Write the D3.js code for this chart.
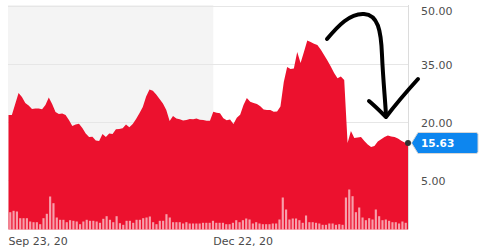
<!DOCTYPE html>
<html>
<head>
<meta charset="utf-8">
<script src="https://cdn.jsdelivr.net/npm/d3@7/dist/d3.min.js"></script>
<style>
  html, body { margin: 0; padding: 0; background: #fff; }
  svg { display: block; font-family: "DejaVu Sans", sans-serif; }
</style>
</head>
<body>
<svg id="chart" width="490" height="247"></svg>
<script>
// ---- data ----
const prices = [
  21.76, 21.76, 24.60, 27.44, 26.41, 24.86, 24.21, 23.31, 23.44, 23.44,
  23.23, 24.34, 26.28, 24.60, 22.54, 22.02, 22.15, 21.76, 20.47, 18.93,
  19.31, 19.49, 18.41, 16.99, 16.09, 16.17, 15.19, 15.06, 16.86, 16.09,
  16.99, 16.86, 18.10, 18.15, 18.33, 19.31, 18.59, 19.44, 20.73, 22.20,
  23.83, 26.53, 28.31, 28.00, 27.05, 25.89, 24.73, 23.05, 20.22, 21.51,
  20.86, 20.65, 20.32, 20.47, 20.73, 20.68, 20.86, 20.55, 20.47, 20.29,
  20.29, 22.61, 22.36, 22.23, 20.91, 20.42, 20.60, 19.44, 21.07, 21.82,
  24.34, 26.15, 25.19, 24.86, 24.60, 24.01, 23.18, 23.05, 23.05, 22.59,
  22.67, 23.96, 30.27, 34.14, 33.63, 33.75, 38.01, 35.17, 38.01, 40.97,
  40.59, 40.15, 39.81, 38.65, 37.24, 35.82, 34.27, 32.59, 31.23, 31.69,
  30.79, 14.54, 17.64, 15.83, 15.96, 16.09, 15.06, 14.16, 13.51, 13.77,
  14.93, 15.50, 16.09, 16.48, 16.25, 16.09, 15.68, 15.14, 14.67, 14.54
];
const volumes = [
  17.3, 18.7, 18, 11.3, 11.3, 11.3, 8, 7.3, 7.3, 5.3,
  11.3, 15.7, 33, 26.3, 12, 9.7, 9.7, 7.3, 9.3, 8.7,
  8, 5.3, 8, 9.7, 8.7, 8.7, 8, 6.7, 10.7, 13.3,
  9.7, 7.3, 13.3, 6.3, 4.7, 8.7, 8.7, 6.7, 9.7, 9.7,
  11.3, 12, 13, 7.3, 5.3, 8.7, 8.7, 15.3, 12, 7.3,
  7.3, 7.3, 6, 7.3, 6, 6, 6, 6, 6.7, 6.7,
  6.7, 8.7, 6.7, 6.7, 6.7, 5.3, 5.3, 6.7, 9.3, 7.3,
  9.3, 11, 10, 6, 7.3, 6, 5.3, 5.3, 5.3, 6,
  6, 10, 32, 20, 10, 11, 11, 9.3, 6.7, 14,
  7.3, 7.3, 6.7, 6, 4.7, 4.7, 6, 6, 4.7, 5.3,
  4.7, 32, 40, 33.3, 17.3, 22, 12, 9.3, 11.3, 10,
  20, 13.3, 9.3, 10, 8.7, 7.3, 7.3, 6, 8, 6.7
];
const yTicks = [50, 35, 20, 5];
const xTickLabels = ["Sep 23, 20", "Dec 22, 20"];
const xTickIndex = [0, 61];
const shadeEndIndex = 61;
const lastPriceLabel = "15.63";

// ---- layout ----
const svg = d3.select("#chart");
const plotL = 8.5, plotR = 408, plotT = 5.5, plotB = 229.5;

const x = d3.scaleLinear().domain([0, prices.length - 1]).range([plotL, plotR]);
const xb = d3.scaleBand().domain(d3.range(volumes.length)).range([8, 408]).padding(0.36);
const y = d3.scaleLinear().domain([50, 5]).range([plotT, 180]);
const yv = d3.scaleLinear().domain([0, 100]).range([plotB, plotB - 100]);

// shaded earlier region
svg.append("rect")
  .attr("x", 8).attr("y", 5)
  .attr("width", x(shadeEndIndex) - 8).attr("height", plotB - 5)
  .attr("fill", "#f4f4f4");

// gridlines
svg.append("g").selectAll("line").data(yTicks).join("line")
  .attr("x1", 8).attr("x2", plotR)
  .attr("y1", d => Math.round(y(d)) + 0.5).attr("y2", d => Math.round(y(d)) + 0.5)
  .attr("stroke", "#e6e6e6").attr("stroke-width", 1);

// right axis line
svg.append("line")
  .attr("x1", plotR + 0.5).attr("x2", plotR + 0.5)
  .attr("y1", 5).attr("y2", plotB)
  .attr("stroke", "#dcdcdc");

// price area
const area = d3.area()
  .x((d, i) => x(i))
  .y0(plotB)
  .y1(d => y(d));
svg.append("path").datum(prices)
  .attr("d", area)
  .attr("fill", "#ec112e");

// volume bars
svg.append("g").selectAll("rect").data(volumes).join("rect")
  .attr("x", (d, i) => xb(i))
  .attr("width", xb.bandwidth())
  .attr("y", d => yv(d))
  .attr("height", d => plotB - yv(d))
  .attr("fill", "#ffffff")
  .attr("fill-opacity", 0.6);

// y labels
svg.append("g").selectAll("text").data(yTicks).join("text")
  .attr("x", 421)
  .attr("y", d => Math.max(y(d) + 1, 11))
  .attr("dy", "0.35em")
  .attr("font-size", 11)
  .attr("fill", "#4f4f4f")
  .text(d => d3.format(".2f")(d));

// x labels
svg.append("g").selectAll("text").data(xTickLabels).join("text")
  .attr("x", (d, i) => x(xTickIndex[i]))
  .attr("y", 244.5)
  .attr("font-size", 11)
  .attr("fill", "#4a4a4a")
  .text(d => d);

// last price marker and callout
const lastY = y(prices[prices.length - 1]);
const cx = plotR;
const callout = svg.append("g");
callout.append("path")
  .attr("d", `M${cx + 3.5},${lastY} L${cx + 10},${lastY - 10.5} L${cx + 68},${lastY - 10.5} Q${cx + 70},${lastY - 10.5} ${cx + 70},${lastY - 8.5} L${cx + 70},${lastY + 8.5} Q${cx + 70},${lastY + 10.5} ${cx + 68},${lastY + 10.5} L${cx + 10},${lastY + 10.5} Z`)
  .attr("fill", "#0d86ef")
  .attr("stroke", "#d6d6d6")
  .attr("stroke-width", 1);
callout.append("text")
  .attr("x", 421).attr("y", lastY)
  .attr("dy", "0.36em")
  .attr("font-size", 10.5)
  .attr("font-weight", "bold")
  .attr("fill", "#ffffff")
  .text(lastPriceLabel);
svg.append("circle")
  .attr("cx", cx).attr("cy", lastY).attr("r", 3)
  .attr("fill", "#333333");

// hand-drawn annotation arrow
const arrow = svg.append("g")
  .attr("fill", "none").attr("stroke", "#000")
  .attr("stroke-width", 4).attr("stroke-linecap", "round").attr("stroke-linejoin", "round");
arrow.append("path")
  .attr("d", "M327,39 C338,26 350,13 364,14 C378,15 381,30 382,55 C383,78 385,98 386,115");
arrow.append("path")
  .attr("d", "M369,101 C375,106 380,111 386,117 C396,104 408,90 418,79");
</script>
</body>
</html>
